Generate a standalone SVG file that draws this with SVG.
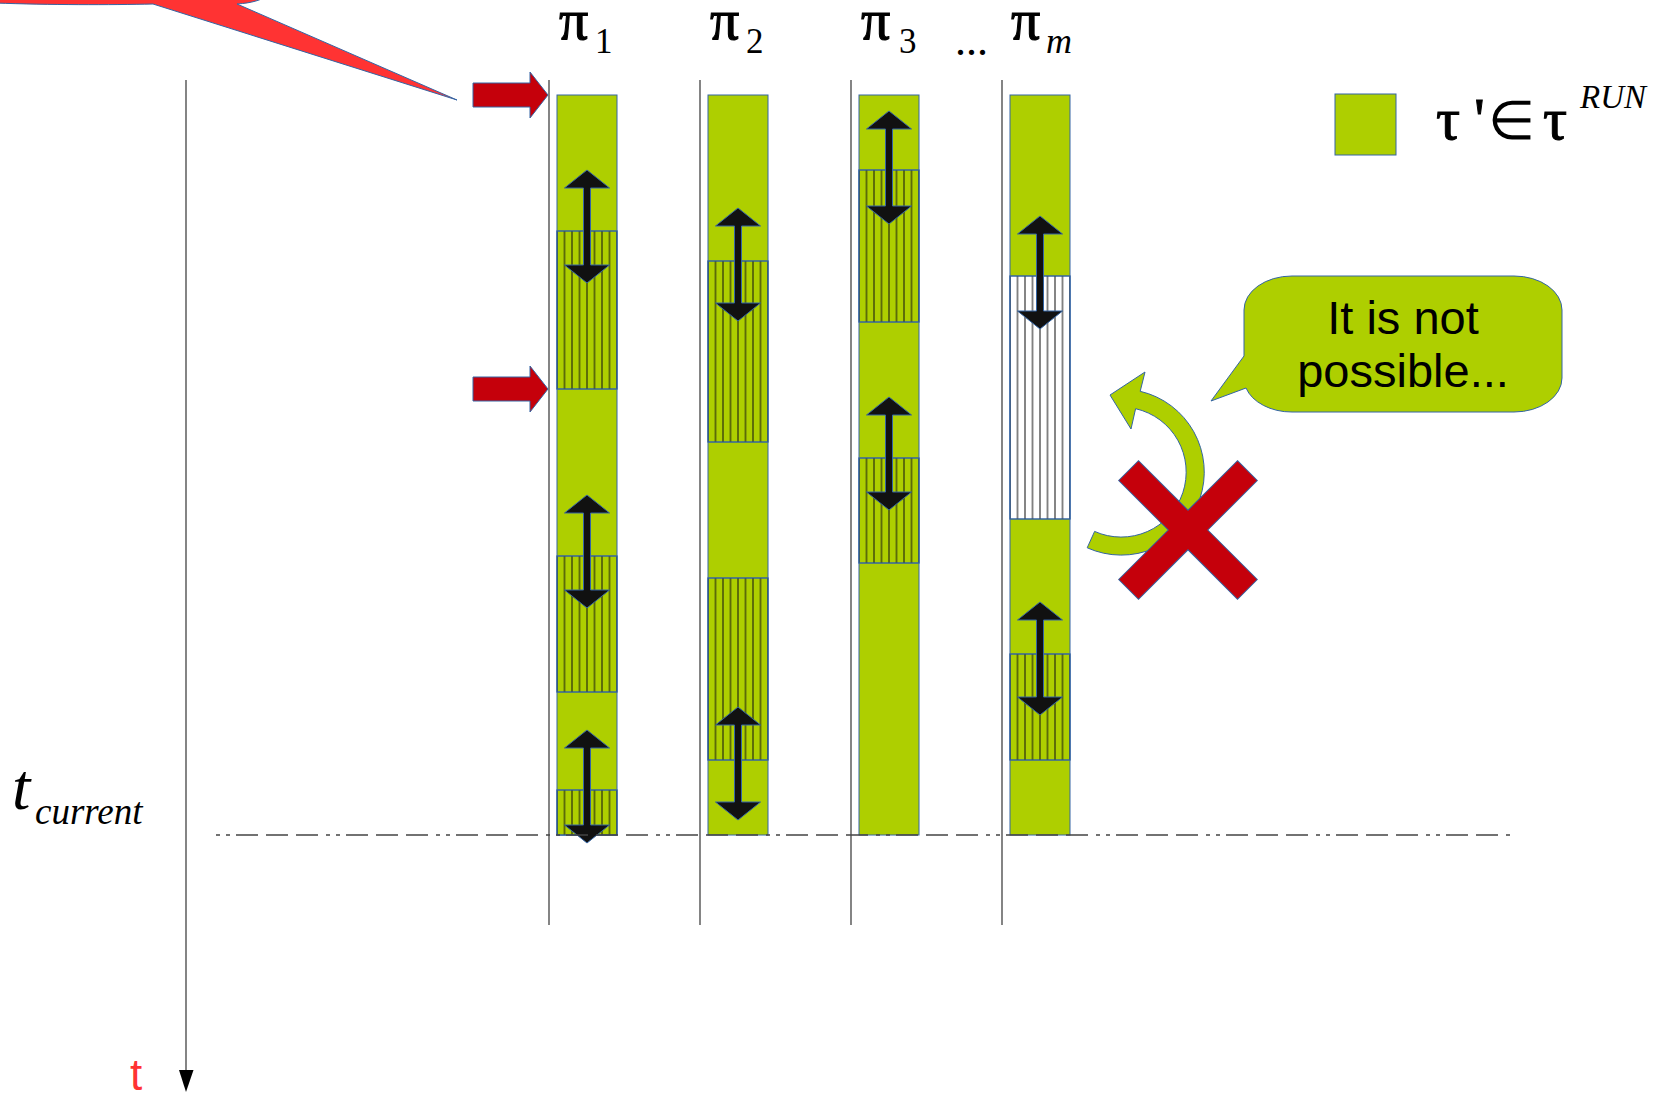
<svg xmlns="http://www.w3.org/2000/svg" width="1670" height="1098" viewBox="0 0 1670 1098">
<style>
.seg{fill:#aecf00;stroke:#3465a4;stroke-width:1}
.wseg{fill:#ffffff;stroke:#3465a4;stroke-width:1}
.hl{stroke:#111111;stroke-width:1}
.darr{fill:#111111;stroke:#3465a4;stroke-width:1}
.vline{stroke:#333333;stroke-width:1.2;fill:none}
.pi{font-family:"Liberation Serif",serif;font-size:58px;fill:#000;stroke:#000;stroke-width:1.1}
.sub{font-family:"Liberation Serif",serif;font-size:35px;fill:#000}
.redarr{fill:#c5000b;stroke:#3465a4;stroke-width:1}
</style>
<defs>
<path id="darr" d="M0,0 L22.5,18 L3.5,18 L3.5,95 L22.5,95 L0,113 L-22.5,95 L-3.5,95 L-3.5,18 L-22.5,18 Z"/>
<pattern id="h1" patternUnits="userSpaceOnUse" x="560.75" y="0" width="7.5" height="20"><line class="hl" x1="3.75" y1="0" x2="3.75" y2="20"/></pattern>
<pattern id="h2" patternUnits="userSpaceOnUse" x="711.75" y="0" width="7.5" height="20"><line class="hl" x1="3.75" y1="0" x2="3.75" y2="20"/></pattern>
<pattern id="h3" patternUnits="userSpaceOnUse" x="862.75" y="0" width="7.5" height="20"><line class="hl" x1="3.75" y1="0" x2="3.75" y2="20"/></pattern>
<pattern id="h4" patternUnits="userSpaceOnUse" x="1013.75" y="0" width="7.5" height="20"><line class="hl" x1="3.75" y1="0" x2="3.75" y2="20"/></pattern>
</defs>
<rect x="0" y="0" width="1670" height="1098" fill="#ffffff"/>

<g id="red-callout">
<path d="M-5,-5 L-5,3 C50,5 110,5 153,4 L457,100 L237,4 C252,3 262,0 268,-5 Z" fill="#ff3333" stroke="#3465a4" stroke-width="1"/>
</g>

<g id="time-axis">
<line class="vline" x1="186" y1="80" x2="186" y2="1072"/>
<path d="M179,1070 L193.5,1070 L186,1092 Z" fill="#000"/>
<text x="130" y="1090" font-family="Liberation Sans, sans-serif" font-size="44" fill="#ff3333">t</text>
</g>

<g id="t-current">
<text x="12" y="809" font-family="Liberation Serif, serif" font-style="italic" font-size="66" fill="#000">t</text>
<text x="35" y="824" font-family="Liberation Serif, serif" font-style="italic" font-size="37" fill="#000">current</text>
</g>

<g id="processor-lines">
<line class="vline" x1="549" y1="80" x2="549" y2="925"/>
<line class="vline" x1="700" y1="80" x2="700" y2="925"/>
<line class="vline" x1="851" y1="80" x2="851" y2="925"/>
<line class="vline" x1="1002" y1="80" x2="1002" y2="925"/>
</g>

<g id="titles">
<text x="559" y="39" class="pi">π</text>
<text x="595" y="53" class="sub">1</text>
<text x="710" y="39" class="pi">π</text>
<text x="746" y="53" class="sub">2</text>
<text x="861" y="39" class="pi">π</text>
<text x="899" y="53" class="sub">3</text>
<text x="955" y="55" class="sub" style="font-size:44px">...</text>
<text x="1011" y="39" class="pi">π</text>
<text x="1046" y="53" class="sub" style="font-size:36px;font-style:italic">m</text>
</g>

<g id="col-pi1">
<rect class="seg" x="557" y="95" width="60" height="740"/>
<rect class="seg" x="557" y="231" width="60" height="158"/>
<rect x="557" y="231" width="60" height="158" fill="url(#h1)" stroke="#3465a4"/>
<rect class="seg" x="557" y="556" width="60" height="136"/>
<rect x="557" y="556" width="60" height="136" fill="url(#h1)" stroke="#3465a4"/>
<rect class="seg" x="557" y="790" width="60" height="45"/>
<rect x="557" y="790" width="60" height="45" fill="url(#h1)" stroke="#3465a4"/>
<use href="#darr" class="darr" x="587" y="170"/>
<use href="#darr" class="darr" x="587" y="495"/>
<use href="#darr" class="darr" x="587" y="730"/>
</g>

<g id="col-pi2">
<rect class="seg" x="708" y="95" width="60" height="740"/>
<rect class="seg" x="708" y="261" width="60" height="181"/>
<rect x="708" y="261" width="60" height="181" fill="url(#h2)" stroke="#3465a4"/>
<rect class="seg" x="708" y="578" width="60" height="182"/>
<rect x="708" y="578" width="60" height="182" fill="url(#h2)" stroke="#3465a4"/>
<use href="#darr" class="darr" x="738" y="208"/>
<use href="#darr" class="darr" x="738" y="707"/>
</g>

<g id="col-pi3">
<rect class="seg" x="859" y="95" width="60" height="740"/>
<rect class="seg" x="859" y="170" width="60" height="152"/>
<rect x="859" y="170" width="60" height="152" fill="url(#h3)" stroke="#3465a4"/>
<rect class="seg" x="859" y="458" width="60" height="105"/>
<rect x="859" y="458" width="60" height="105" fill="url(#h3)" stroke="#3465a4"/>
<use href="#darr" class="darr" x="889" y="111"/>
<use href="#darr" class="darr" x="889" y="397"/>
</g>

<g id="col-pim">
<rect class="seg" x="1010" y="95" width="60" height="740"/>
<rect class="wseg" x="1010" y="276" width="60" height="243"/>
<rect x="1010" y="276" width="60" height="243" fill="url(#h4)" stroke="#3465a4"/>
<rect class="seg" x="1010" y="654" width="60" height="106"/>
<rect x="1010" y="654" width="60" height="106" fill="url(#h4)" stroke="#3465a4"/>
<use href="#darr" class="darr" x="1040" y="216"/>
<use href="#darr" class="darr" x="1040" y="602"/>
</g>

<g id="tcurrent-line">
<line x1="216" y1="835" x2="1510" y2="835" stroke="#444" stroke-width="1.3" stroke-dasharray="4 6 4 6 22 8 22 8 22 8"/>
</g>

<g id="connectors">
<path class="redarr" d="M473,83 H530 V72 L548,95 L530,118 V107 H473 Z"/>
<path class="redarr" d="M473,377 H530 V366 L548,389 L530,412 V401 H473 Z"/>
</g>

<g id="legend">
<rect class="seg" x="1335" y="94" width="61" height="61"/>
<text y="139" font-family="Liberation Serif, serif" font-size="60" fill="#000" stroke="#000" stroke-width="1"><tspan x="1436">τ</tspan><tspan x="1474">'</tspan></text>
<text x="1488" y="139" font-family="Liberation Serif, serif" font-size="54" fill="#000">∈</text>
<text x="1543" y="139" font-family="Liberation Serif, serif" font-size="60" fill="#000" stroke="#000" stroke-width="1">τ</text>
<text x="1580" y="108" font-family="Liberation Serif, serif" font-style="italic" font-size="33" fill="#000">RUN</text>
</g>

<g id="rotate-arrow">
<path d="M1087.2,547.8 A83,83 0 1 0 1140.2,391.3 L1145,372 L1110,395 L1131,429 L1135.6,408.7 A65,65 0 1 1 1094.6,531.4 Z" fill="#aecf00" stroke="#3465a4" stroke-width="1"/>
</g>

<g id="cross">
<path transform="translate(1188,530) rotate(45)" d="M-14,-84 L14,-84 L14,-14 L84,-14 L84,14 L14,14 L14,84 L-14,84 L-14,14 L-84,14 L-84,-14 L-14,-14 Z" fill="#c5000b" stroke="#3465a4" stroke-width="1"/>
</g>

<g id="speech-bubble">
<path d="M1292,276 H1514 A48,34 0 0 1 1562,310 V378 A48,34 0 0 1 1514,412 H1292 A48,34 0 0 1 1246,388 L1211,401 L1244,356 V310 A48,34 0 0 1 1292,276 Z" fill="#aecf00" stroke="#3465a4" stroke-width="1"/>
<text x="1403" y="334" text-anchor="middle" font-family="Liberation Sans, sans-serif" font-size="47" fill="#000">It is not</text>
<text x="1403" y="387" text-anchor="middle" font-family="Liberation Sans, sans-serif" font-size="47" fill="#000">possible...</text>
</g>
</svg>
